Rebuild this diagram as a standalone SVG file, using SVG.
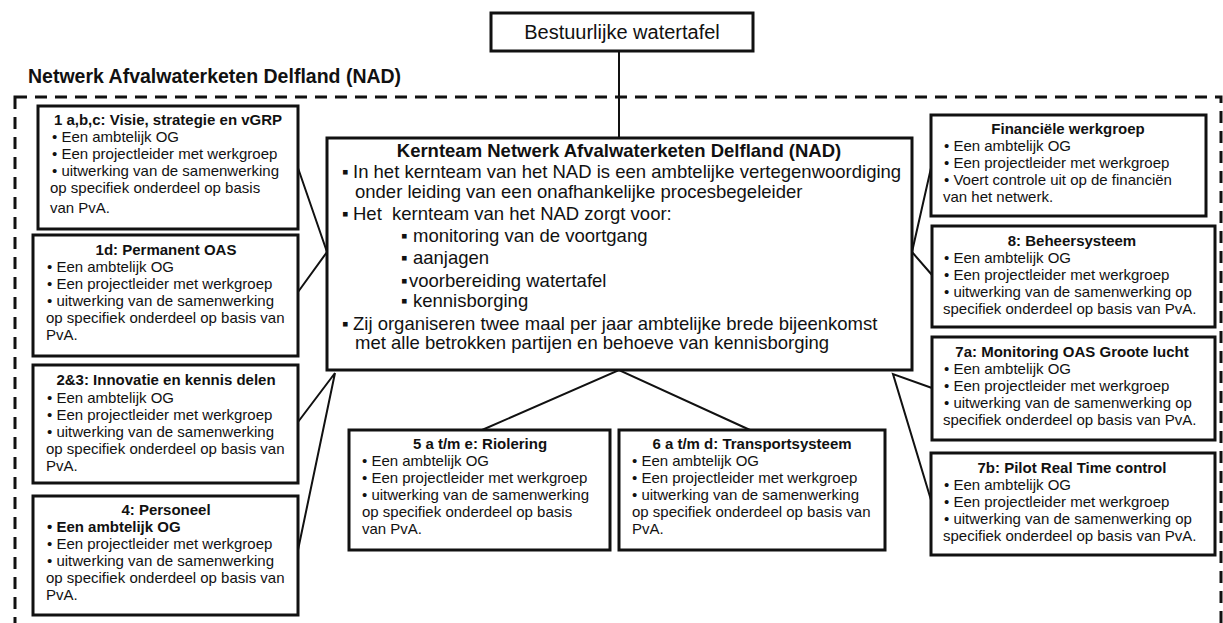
<svg xmlns="http://www.w3.org/2000/svg" width="1223" height="623" viewBox="0 0 1223 623">
<style>
text{font-family:"Liberation Sans",Arial,sans-serif;fill:#111}
.t{font-size:15px;font-weight:bold;text-anchor:middle}
.b{font-size:15px}
.bb{font-size:15px;font-weight:bold}
.c{font-size:18.5px}
.ct{font-size:18.5px;font-weight:bold;text-anchor:middle}
.box{fill:#fff;stroke:#111;stroke-width:3}
.con{stroke:#111;stroke-width:2;fill:none}
</style>
<rect width="1223" height="623" fill="#fff"/>
<g id="nad-frame">
<rect x="15" y="97" width="1206" height="560" fill="none" stroke="#111" stroke-width="3" stroke-dasharray="12 8"/>
<text x="28" y="83" style="font-size:19.5px;font-weight:bold">Netwerk Afvalwaterketen Delfland (NAD)</text>
</g>
<g id="connectors">
<line class="con" x1="619" y1="51" x2="619" y2="138"/>
<polyline class="con" points="298,168 327,252 298,292"/>
<polyline class="con" points="298,422 335,373 298,550"/>
<polyline class="con" points="931,168 912,252 932,275"/>
<polyline class="con" points="932,388 893,374 931,500"/>
<polyline class="con" points="482,430 619,370 750,430"/>
</g>
<g id="bestuurlijke-watertafel">
<rect class="box" x="491" y="13" width="262" height="38"/>
<text x="622" y="39" style="font-size:20px;text-anchor:middle">Bestuurlijke watertafel</text>
</g>
<g id="kernteam">
<rect class="box" x="327" y="138" width="585" height="232"/>
<text class="ct" x="619" y="157">Kernteam Netwerk Afvalwaterketen Delfland (NAD)</text>
<text class="c" y="178"><tspan x="342">▪</tspan><tspan x="353">In het kernteam van het NAD is een ambtelijke vertegenwoordiging</tspan></text>
<text class="c" x="355" y="198">onder leiding van een onafhankelijke procesbegeleider</text>
<text class="c" y="220" style="white-space:pre"><tspan x="342">▪</tspan><tspan x="353">Het  kernteam van het NAD zorgt voor:</tspan></text>
<text class="c" y="242"><tspan x="401">▪</tspan><tspan x="413">monitoring van de voortgang</tspan></text>
<text class="c" y="264"><tspan x="401">▪</tspan><tspan x="413">aanjagen</tspan></text>
<text class="c" y="287"><tspan x="401">▪</tspan><tspan x="409">voorbereiding watertafel</tspan></text>
<text class="c" y="307"><tspan x="401">▪</tspan><tspan x="413">kennisborging</tspan></text>
<text class="c" y="330"><tspan x="342">▪</tspan><tspan x="353">Zij organiseren twee maal per jaar ambtelijke brede bijeenkomst</tspan></text>
<text class="c" x="355" y="349">met alle betrokken partijen en behoeve van kennisborging</text>
</g>
<g id="box-1abc">
<rect class="box" x="38" y="106" width="260" height="123"/>
<text class="t" x="168" y="125">1 a,b,c: Visie, strategie en vGRP</text>
<text class="b" x="52" y="142">• Een ambtelijk OG</text>
<text class="b" x="52" y="159">• Een projectleider met werkgroep</text>
<text class="b" x="52" y="176">• uitwerking van de samenwerking</text>
<text class="b" x="50" y="193">op specifiek onderdeel op basis</text>
<text class="b" x="50" y="213">van PvA.</text>
</g>
<g id="box-1d">
<rect class="box" x="33" y="235" width="265" height="121"/>
<text class="t" x="166" y="255">1d: Permanent OAS</text>
<text class="b" x="47" y="272">• Een ambtelijk OG</text>
<text class="b" x="47" y="289">• Een projectleider met werkgroep</text>
<text class="b" x="47" y="306">• uitwerking van de samenwerking</text>
<text class="b" x="46" y="323">op specifiek onderdeel op basis van</text>
<text class="b" x="46" y="340">PvA.</text>
</g>
<g id="box-2-3">
<rect class="box" x="33" y="365" width="265" height="118"/>
<text class="t" x="166" y="385">2&amp;3: Innovatie en kennis delen</text>
<text class="b" x="47" y="403">• Een ambtelijk OG</text>
<text class="b" x="47" y="420">• Een projectleider met werkgroep</text>
<text class="b" x="47" y="437">• uitwerking van de samenwerking</text>
<text class="b" x="46" y="454">op specifiek onderdeel op basis van</text>
<text class="b" x="46" y="471">PvA.</text>
</g>
<g id="box-4">
<rect class="box" x="33" y="496" width="265" height="119"/>
<text class="t" x="166" y="515">4: Personeel</text>
<text class="bb" x="47" y="532">• Een ambtelijk OG</text>
<text class="b" x="47" y="549">• Een projectleider met werkgroep</text>
<text class="b" x="47" y="566">• uitwerking van de samenwerking</text>
<text class="b" x="46" y="583">op specifiek onderdeel op basis van</text>
<text class="b" x="46" y="600">PvA.</text>
</g>
<g id="box-5">
<rect class="box" x="349" y="430" width="261" height="120"/>
<text class="t" x="480" y="449">5 a t/m e: Riolering</text>
<text class="b" x="362" y="466">• Een ambtelijk OG</text>
<text class="b" x="362" y="483">• Een projectleider met werkgroep</text>
<text class="b" x="362" y="500">• uitwerking van de samenwerking</text>
<text class="b" x="362" y="517">op specifiek onderdeel op basis</text>
<text class="b" x="362" y="534">van PvA.</text>
</g>
<g id="box-6">
<rect class="box" x="619" y="430" width="266" height="120"/>
<text class="t" x="752" y="449">6 a t/m d: Transportsysteem</text>
<text class="b" x="632" y="466">• Een ambtelijk OG</text>
<text class="b" x="632" y="483">• Een projectleider met werkgroep</text>
<text class="b" x="632" y="500">• uitwerking van de samenwerking</text>
<text class="b" x="632" y="517">op specifiek onderdeel op basis van</text>
<text class="b" x="632" y="534">PvA.</text>
</g>
<g id="box-financieel">
<rect class="box" x="931" y="115" width="275" height="101"/>
<text class="t" x="1068" y="134">Financiële werkgroep</text>
<text class="b" x="944" y="151">• Een ambtelijk OG</text>
<text class="b" x="944" y="168">• Een projectleider met werkgroep</text>
<text class="b" x="944" y="185">• Voert controle uit op de financiën</text>
<text class="b" x="943" y="202">van het netwerk.</text>
</g>
<g id="box-8">
<rect class="box" x="932" y="226" width="283" height="101"/>
<text class="t" x="1072" y="246">8: Beheersysteem</text>
<text class="b" x="944" y="263">• Een ambtelijk OG</text>
<text class="b" x="944" y="280">• Een projectleider met werkgroep</text>
<text class="b" x="944" y="297">• uitwerking van de samenwerking op</text>
<text class="b" x="943" y="314">specifiek onderdeel op basis van PvA.</text>
</g>
<g id="box-7a">
<rect class="box" x="932" y="337" width="283" height="103"/>
<text class="t" x="1072" y="357">7a: Monitoring OAS Groote lucht</text>
<text class="b" x="944" y="374">• Een ambtelijk OG</text>
<text class="b" x="944" y="391">• Een projectleider met werkgroep</text>
<text class="b" x="944" y="408">• uitwerking van de samenwerking op</text>
<text class="b" x="943" y="425">specifiek onderdeel op basis van PvA.</text>
</g>
<g id="box-7b">
<rect class="box" x="931" y="453" width="284" height="102"/>
<text class="t" x="1072" y="473">7b: Pilot Real Time control</text>
<text class="b" x="944" y="490">• Een ambtelijk OG</text>
<text class="b" x="944" y="507">• Een projectleider met werkgroep</text>
<text class="b" x="944" y="524">• uitwerking van de samenwerking op</text>
<text class="b" x="943" y="541">specifiek onderdeel op basis van PvA.</text>
</g>
</svg>
